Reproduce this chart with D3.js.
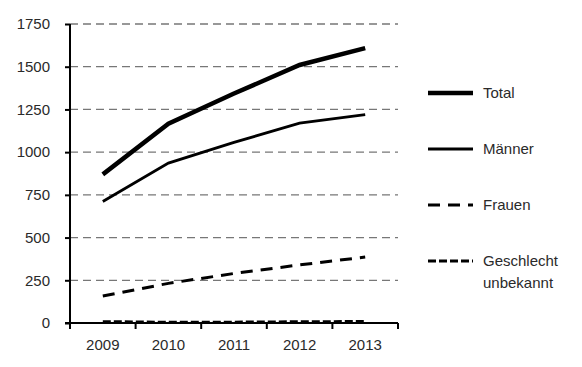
<!DOCTYPE html>
<meta charset="utf-8">
<script src="https://d3js.org/d3.v7.min.js"></script>
<style>
  body { margin: 0; background: #fff; }
  text { font-family: "Liberation Sans", Arial, sans-serif; fill: #2a2a2a; }
</style>
<div id="chart"></div>
<script>
// data
var years = ["2009", "2010", "2011", "2012", "2013"];
var total = [870, 1166, 1343, 1510, 1609];
var maenner = [711, 936, 1057, 1170, 1219];
var frauen = [158, 232, 290, 340, 386];
var unbekannt = [8, 4, 5, 7, 9];
var yTicks = [0, 250, 500, 750, 1000, 1250, 1500, 1750];

var series = [
  {name: ["Total"], values: total, width: 4.5, dash: null},
  {name: ["Männer"], values: maenner, width: 2.8, dash: null},
  {name: ["Frauen"], values: frauen, width: 3, dash: "12,8"},
  {name: ["Geschlecht", "unbekannt"], values: unbekannt, width: 3, dash: "8,3"}
];

var width = 582, height = 367;
var svg = d3.select("#chart").append("svg")
    .attr("width", width)
    .attr("height", height);

var x = d3.scaleBand().domain(years).range([70, 398]);
var y = d3.scaleLinear().domain([0, 1750]).range([323, 24]);

// grid lines
svg.append("g")
  .selectAll("line")
  .data(yTicks.filter(function(d) { return d > 0; }))
  .enter().append("line")
    .attr("x1", 70).attr("x2", 398)
    .attr("y1", function(d) { return y(d); })
    .attr("y2", function(d) { return y(d); })
    .attr("stroke", "#777")
    .attr("stroke-width", 1.3)
    .attr("stroke-dasharray", "8,5");

// y axis
var yAxis = svg.append("g")
    .attr("transform", "translate(70,0)")
    .call(d3.axisLeft(y).tickValues(yTicks).tickFormat(d3.format("d")).tickSize(5).tickPadding(15));
yAxis.select(".domain").attr("stroke", "#000").attr("stroke-width", 2).attr("d", "M0," + y(1750) + "V" + y(0));
yAxis.selectAll(".tick line").attr("stroke", "#000").attr("stroke-width", 2);
yAxis.selectAll("text").style("font-size", "15px").attr("fill", "#2a2a2a");

// x axis
var xAxis = svg.append("g")
    .attr("transform", "translate(0," + y(0) + ")")
    .call(d3.axisBottom(x).tickSize(0).tickPadding(16));
xAxis.select(".domain").attr("stroke", "#000").attr("stroke-width", 2).attr("d", "M65,0H398");
xAxis.selectAll("text").style("font-size", "15px").attr("fill", "#2a2a2a");
xAxis.selectAll(".bound")
  .data(years.concat(["end"]))
  .enter().append("line")
    .attr("class", "bound")
    .attr("x1", function(d, i) { return x.range()[0] + i * x.step(); })
    .attr("x2", function(d, i) { return x.range()[0] + i * x.step(); })
    .attr("y1", 0).attr("y2", 6)
    .attr("stroke", "#000").attr("stroke-width", 2);

// lines
var line = d3.line()
    .x(function(d, i) { return x(years[i]) + x.bandwidth() / 2; })
    .y(function(d) { return y(d); });

svg.append("g")
  .selectAll("path")
  .data(series)
  .enter().append("path")
    .attr("d", function(d) { return line(d.values); })
    .attr("fill", "none")
    .attr("stroke", "#000")
    .attr("stroke-width", function(d) { return d.width; })
    .attr("stroke-dasharray", function(d) { return d.dash; });

// legend
var legend = svg.append("g")
  .selectAll("g")
  .data(series)
  .enter().append("g")
    .attr("transform", function(d, i) { return "translate(428," + (93 + i * 56) + ")"; });

legend.append("line")
    .attr("x1", 0).attr("x2", 45)
    .attr("stroke", "#000")
    .attr("stroke-width", function(d) { return d.width; })
    .attr("stroke-dasharray", function(d) { return d.dash; });

legend.append("text")
    .attr("x", 55)
    .style("font-size", "15px")
    .selectAll("tspan")
    .data(function(d) { return d.name; })
    .enter().append("tspan")
      .attr("x", 55)
      .attr("y", function(d, i) { return 5 + i * 22; })
      .text(function(d) { return d; });
</script>
